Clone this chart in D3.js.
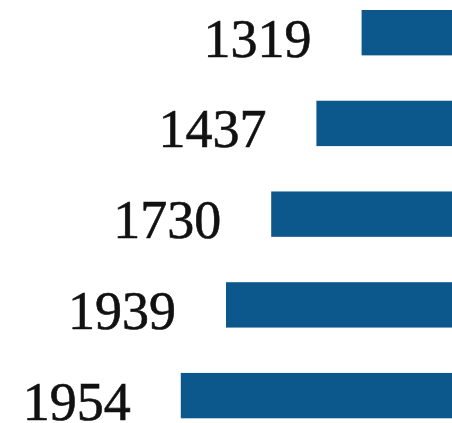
<!DOCTYPE html>
<html>
<head>
<meta charset="utf-8">
<script src="https://cdn.jsdelivr.net/npm/d3@7"></script>
<style>
	html, body { margin: 0; padding: 0; background: #fff; }
	svg { display: block; }
</style>
</head>
<body>
<div id="root"></div>
<script>
const labels = ["1319", "1437", "1730", "1939", "1954"]
const values = [2, 3, 4, 5, 6]

const width = 452
const height = 423
const BAR_COLOR = "#0c588c"

const data = labels.map((label, i) => {
	return {
		label: label,
		value: values[i],
	}
})

const svg = d3.select("#root")
	.append("svg")
	.attr("width", width)
	.attr("height", height)

// bars grow leftwards from the right edge
const x = d3.scaleLinear()
	.domain([0, 10])
	.range([width, 0])

const y = d3.scaleBand()
	.domain(labels)
	.range([10, 418.3])
	.paddingInner(0.5)
	.paddingOuter(0)

svg.selectAll(".bar")
	.data(data)
	.enter()
	.append("rect")
	.attr("class", "bar")
	.attr("x", d => x(d.value))
	.attr("y", d => y(d.label))
	.attr("width", d => width - x(d.value))
	.attr("height", y.bandwidth())
	.attr("fill", BAR_COLOR)

svg.selectAll(".label")
	.data(data)
	.enter()
	.append("text")
	.attr("class", "label")
	.attr("x", d => x(d.value) - 50)
	.attr("y", d => y(d.label) + y.bandwidth() / 2)
	.attr("dy", 24)
	.attr("text-anchor", "end")
	.style("font-family", "'Liberation Serif', 'DejaVu Serif', serif")
	.style("font-size", "54px")
	.style("fill", "#111")
	.style("stroke", "#111")
	.style("stroke-width", "0.6px")
	.text(d => d.label)
</script>
</body>
</html>
